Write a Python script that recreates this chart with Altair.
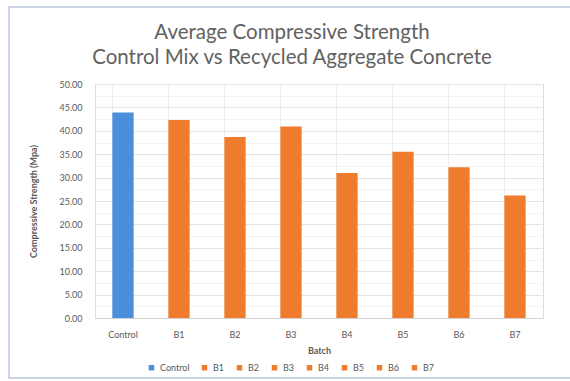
import altair as alt
import pandas as pd

batches = ["Control", "B1", "B2", "B3", "B4", "B5", "B6", "B7"]
strength = [43.9, 42.3, 38.7, 40.9, 31.0, 35.5, 32.2, 26.2]
colors = ["#4a8fdc", "#ef7b2c", "#ef7b2c", "#ef7b2c", "#ef7b2c", "#ef7b2c", "#ef7b2c", "#ef7b2c"]
y_ticks = [i * 2.5 for i in range(21)]
title_lines = ["Average Compressive Strength", "Control Mix vs Recycled Aggregate Concrete"]

df = pd.DataFrame({"Batch": batches, "Strength": strength})

FONT = "Lato"
GRAY = "#595959"

bars = alt.Chart(df).mark_bar().encode(
    x=alt.X("Batch:N", sort=batches,
            scale=alt.Scale(paddingInner=0.62, paddingOuter=0.31),
            axis=alt.Axis(title="Batch", labelAngle=0, ticks=False, grid=True,
                          bandPosition=0, gridColor="#ececec",
                          domainColor="#d0d0d0", labelColor=GRAY, labelFontSize=9,
                          labelPadding=12, titleFontSize=9, titleFontWeight="bold",
                          titleColor=GRAY, titlePadding=7, labelFont=FONT, titleFont=FONT)),
    y=alt.Y("Strength:Q", scale=alt.Scale(domain=[0, 50], nice=False),
            axis=alt.Axis(title="Compressive Strength (Mpa)", values=y_ticks,
                          labelExpr="datum.value % 5 === 0 ? format(datum.value, '.2f') : ''",
                          ticks=False, domain=False,
                          gridColor={"condition": {"test": "datum.value % 5 === 0", "value": "#e4e4e4"}, "value": "#f3f3f3"},
                          labelColor=GRAY, labelFontSize=9, labelPadding=13,
                          titleFontSize=9, titleFontWeight="bold", titleColor=GRAY,
                          titlePadding=20, labelFont=FONT, titleFont=FONT)),
    color=alt.Color("Batch:N", sort=batches,
                    scale=alt.Scale(domain=batches, range=colors),
                    legend=alt.Legend(title=None, orient="none", direction="horizontal",
                                      legendX=52, legendY=279, columns=8,
                                      symbolType="square", symbolSize=30,
                                      labelFontSize=9, labelColor=GRAY, labelFont=FONT,
                                      columnPadding=10, symbolStrokeWidth=0)),
)

frame = alt.Chart(pd.DataFrame({"a": [0]})).mark_rect(
    fill=None, stroke="#b9c6dc", strokeWidth=1.5
).encode(x=alt.value(-86), x2=alt.value(480), y=alt.value(-77), y2=alt.value(294))

title1 = alt.Chart(pd.DataFrame({"a": [0]})).mark_text(
    font=FONT, fontSize=20.5, color="#626262", align="center", baseline="middle"
).encode(x=alt.value(197), y=alt.value(-51), text=alt.value(title_lines[0]))

title2 = alt.Chart(pd.DataFrame({"a": [0]})).mark_text(
    font=FONT, fontSize=20.5, color="#626262", align="center", baseline="middle"
).encode(x=alt.value(197), y=alt.value(-26), text=alt.value(title_lines[1]))

chart = alt.layer(frame, bars, title1, title2).properties(
    width=448, height=234,
    autosize=alt.AutoSizeParams(type="none"),
    padding={"left": 95, "top": 84, "right": 27, "bottom": 63},
).configure_view(stroke=None).configure(background="white")

chart.save("out.html", embed_options={"renderer": "svg", "actions": False})
